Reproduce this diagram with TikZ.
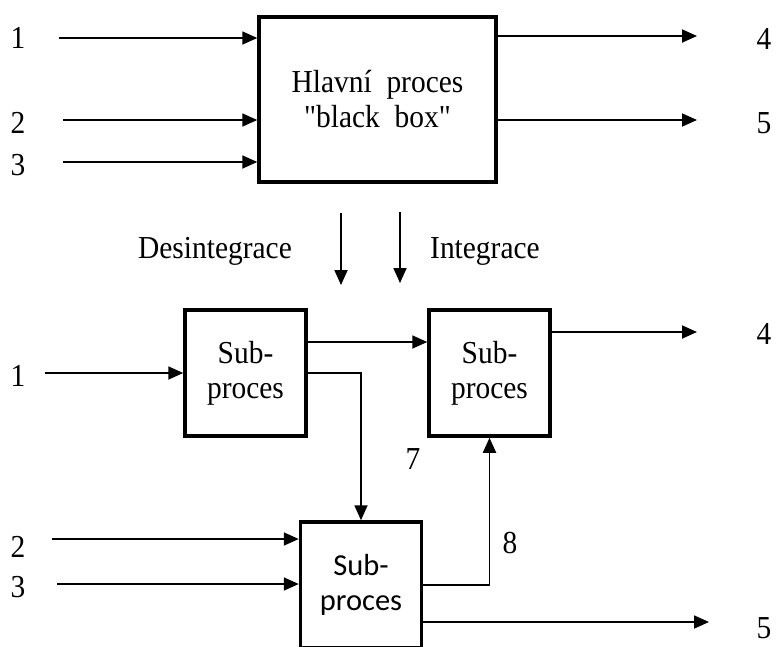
\documentclass[tikz,border=0pt]{standalone}
\usepackage{fontspec}
\setmainfont{Liberation Serif}[FakeStretch=0.92]
\newfontfamily\subsans{Carlito}
\font\plainquote="Liberation Serif:extend=0.92" at 32pt
\usetikzlibrary{arrows.meta}
\tikzset{
  box/.style  = {draw, line width=3.5pt, inner sep=0pt, align=center, font=\fontsize{32}{35}\selectfont},
  pbox/.style = {box, minimum width=237pt, minimum height=165pt},
  sbox/.style = {box, minimum width=121pt, minimum height=126pt},
  flow/.style = {-{Triangle[length=15pt,width=13pt]}, line width=1.8pt},
  num/.style  = {inner sep=0pt, font=\fontsize{32}{35}\selectfont},
}
\newcommand{\dq}{{\plainquote"}}

\begin{document}
\begin{tikzpicture}[x=1pt,y=-1pt]
  \clip (0,0) rectangle (776,646);

  % black box
  \node[pbox] (main) at (377.5,99.5) {Hlavní \ proces\\\dq black \ box\dq};
  \coordinate (a1) at (59,38);
  \coordinate (a2) at (63,120);
  \coordinate (a3) at (63,162);
  \coordinate (o4) at (697,36);
  \coordinate (o5) at (697,120);
  \node[num] (n1) at (18,38) {1};
  \node[num] (n2) at (18,123) {2};
  \node[num] (n3) at (18,165) {3};
  \node[num] (n4) at (764,39) {4};
  \node[num] (n5) at (764,123) {5};
  \draw[flow] (a1) -- (a1 -| main.west);
  \draw[flow] (a2) -- (a2 -| main.west);
  \draw[flow] (a3) -- (a3 -| main.west);
  \draw[flow] (main.east |- o4) -- (o4);
  \draw[flow] (main.east |- o5) -- (o5);

  \coordinate (dis) at (341,213);
  \coordinate (disend) at (341,285);
  \coordinate (int) at (400,212);
  \coordinate (intend) at (400,283);
  \draw[flow] (dis) -- (disend);
  \draw[flow] (int) -- (intend);
  \node[num, anchor=base east] (ldis) at (292,258) {Desintegrace};
  \node[num, anchor=base west] (lint) at (430,258) {Integrace};

  % sub-processes
  \node[sbox] (sub1) at (245.5,373) {Sub-\\proces};
  \node[sbox] (sub2) at (489.5,373) {Sub-\\proces};
  \node[sbox, font=\subsans\fontsize{30.5}{35}\selectfont] (sub3) at (361,585) {Sub-\\proces};

  \coordinate (b1) at (45,373);
  \coordinate (b2) at (52,539);
  \coordinate (b3) at (57,584);
  \coordinate (c12) at (360,342);
  \coordinate (q4) at (697,332);
  \coordinate (q5) at (709,622);
  \node[num] (m1) at (18,376) {1};
  \node[num] (m2) at (18,547) {2};
  \node[num] (m3) at (18,587) {3};
  \node[num] (m4) at (764,334) {4};
  \node[num] (m5) at (764,628) {5};
  \node[num] (m7) at (413,459) {7};
  \node[num] (m8) at (510,543) {8};

  \draw[flow] (b1) -- (b1 -| sub1.west);
  \draw[flow] (c12 -| sub1.east) -- (c12 -| sub2.west);
  \draw[flow] (sub1.east) -| (sub3.north);
  \draw[flow] (sub2.east |- q4) -- (q4);
  \draw[flow] (b2) -- (b2 -| sub3.west);
  \draw[flow] (b3) -- (b3 -| sub3.west);
  \draw[flow] (sub3.east) -| (sub2.south);
  \draw[flow] (sub3.east |- q5) -- (q5);
\end{tikzpicture}
\end{document}
